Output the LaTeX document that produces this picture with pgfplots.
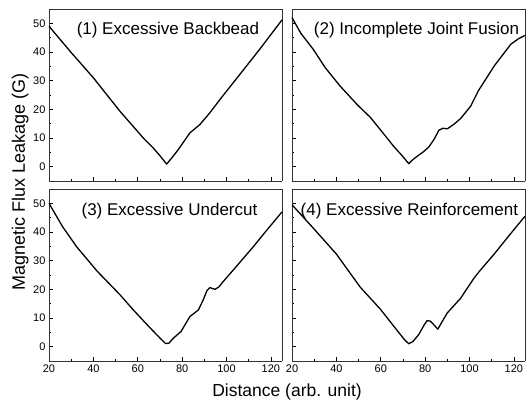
\documentclass[border=0pt]{standalone}
\usepackage{fontspec}
\setmainfont{Liberation Sans}
\usepackage{pgfplots}
\pgfplotsset{compat=1.18}
\usepgfplotslibrary{groupplots}
\usetikzlibrary{calc}

\pgfplotsset{
  mflpanel/.style={
    width=233pt, height=172pt, scale only axis,
    xmin=20, xmax=125, ymin=-5, ymax=55,
    xtick={20,40,...,120}, ytick={0,10,...,50},
    minor xtick={30,50,...,110}, minor ytick={-5,5,...,55},
    axis x line*=bottom, axis y line*=left,
    tick align=inside,
    major tick length=4pt, minor tick length=2pt,
    tick style={black, line width=0.6pt},
    axis line style={black!80, line width=0.8pt},
    tick label style={font=\fontsize{11}{11}\selectfont},
    /pgf/number format/assume math mode=true,
    clip=false,
  },
  mflcurve/.style={black, line width=1.3pt, line join=round, no marks},
}
\newcommand{\paneltitle}[3]{\node[anchor=base, font=\fontsize{17}{17}\selectfont, inner sep=0pt] at (axis cs:#1,#2) {#3};}

\begin{document}
\begin{tikzpicture}
\begin{groupplot}[
  group style={group size=2 by 2, horizontal sep=10pt, vertical sep=8pt,
    x descriptions at=edge bottom, y descriptions at=edge left},
  mflpanel,
]
% (1)
\nextgroupplot
\draw[black!80, line width=0.8pt] (rel axis cs:0,1) -- (rel axis cs:1,1) -- (rel axis cs:1,0);
\coordinate (tl) at (rel axis cs:0,1);
\addplot[mflcurve] coordinates {
(20,49) (30,39.8) (40,31) (52,19.3) (62.5,10) (67,6.5) (70,3.8) (73,0.9)
(75.5,3.2) (78.2,5.9) (83.5,11.8) (88,14.7) (92.5,18.8) (97,23.4) (105,31.2)
(115,41) (125,51.2)
};
\paneltitle{73.6}{46}{(1) Excessive Backbead}
% (2)
\nextgroupplot
\draw[black!80, line width=0.8pt] (rel axis cs:0,1) -- (rel axis cs:1,1) -- (rel axis cs:1,0);
\addplot[mflcurve] coordinates {
(20,52) (24,46.5) (29.6,40.9) (35,34.5) (41.7,28.1) (49.3,21.7) (55.3,17.2)
(59.8,12.9) (65.8,7.1) (70,3.5) (72.6,1.05) (74.5,2.5) (76.4,3.6) (79.4,5.3)
(81.7,6.9) (84,9.5) (86.2,12.7) (88,13.4) (90,13.2) (93,14.8) (96,16.8)
(100.5,21.1) (104,26.5) (111.1,35.1) (118.6,42.7) (122,44.6) (125,45.8)
};
\paneltitle{76.1}{46}{(2) Incomplete Joint Fusion}
% (3)
\nextgroupplot[ylabel={Magnetic Flux Leakage (G)},
  ylabel style={font=\fontsize{18}{18}\selectfont, at={(rel axis cs:-0.124,1.04)}, anchor=center},
  xlabel={Distance (arb. unit)},
  xlabel style={font=\fontsize{17.5}{17.5}\selectfont, at={(rel axis cs:1.0215,0)}, anchor=center, yshift=-31pt}]
\draw[black!80, line width=0.8pt] (rel axis cs:0,1) -- (rel axis cs:1,1) -- (rel axis cs:1,0);
\addplot[mflcurve] coordinates {
(20,50) (26,42) (32.5,34.8) (41.5,26.5) (52,18.1) (58,12.8) (65,7) (70,3)
(72.5,1.1) (74,1.2) (76,2.9) (79.5,5.3) (83.5,10.5) (87.3,12.8) (89.5,16.3)
(91.2,19.6) (92.5,20.6) (94.8,20.0) (96.5,20.8) (98.5,22.7) (103,26.7)
(112,34.8) (118,40.5) (125,47)
};
\paneltitle{74.3}{45.6}{(3) Excessive Undercut}
% (4)
\nextgroupplot
\draw[black!80, line width=0.8pt] (rel axis cs:0,1) -- (rel axis cs:1,1) -- (rel axis cs:1,0);
\addplot[mflcurve] coordinates {
(20,49.5) (30,41) (40,32.3) (50.8,20.7) (59.8,13.1) (66,7) (70.5,2.6)
(72.6,1.0) (74.5,1.8) (77.1,4.2) (79.5,7.5) (80.9,9.1) (82.3,8.9) (83.5,8.0)
(85.7,6.1) (87.5,8.5) (89.9,11.7) (96,16.9) (102,23.9) (104.9,26.7)
(111.1,32.3) (118.6,39.5) (125,45.5)
};
\paneltitle{72.9}{45.6}{(4) Excessive Reinforcement}
\end{groupplot}
\path[use as bounding box] ($(tl)+(-49pt,9pt)$) rectangle ($(tl)+(480pt,-392pt)$);
\end{tikzpicture}
\end{document}
